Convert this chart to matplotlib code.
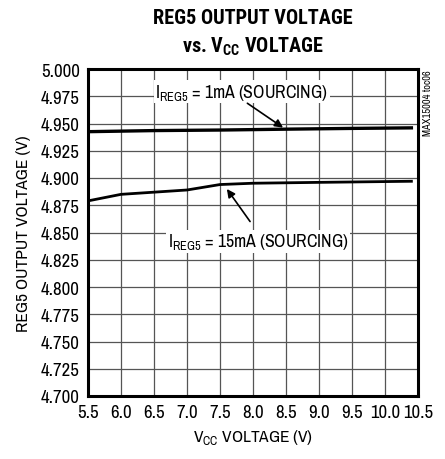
import matplotlib
matplotlib.use("Agg")
import matplotlib.pyplot as plt

FONT = "Archivo Narrow"
TFONT = "Roboto Condensed"
plt.rcParams['font.family'] = [FONT, 'DejaVu Sans']
plt.rcParams['mathtext.fontset'] = 'custom'
plt.rcParams['mathtext.rm'] = FONT
plt.rcParams['mathtext.bf'] = TFONT + ':bold'

vcc_1ma = [5.5, 6.5, 7.5, 8.5, 9.5, 10.4]
reg5_1ma = [4.9425, 4.9435, 4.944, 4.9448, 4.9455, 4.946]
vcc_15ma = [5.5, 6.0, 7.0, 7.5, 8.0, 9.0, 10.4]
reg5_15ma = [4.879, 4.885, 4.889, 4.894, 4.8952, 4.896, 4.897]
xticks = [5.5, 6.0, 6.5, 7.0, 7.5, 8.0, 8.5, 9.0, 9.5, 10.0, 10.5]
yticks = [4.700 + 0.025 * i for i in range(13)]

fig = plt.figure(figsize=(4.45, 4.60), dpi=100)
ax = fig.add_axes([88/445, 1-397/460, 330/445, 327/460])
ax.set_xlim(5.5, 10.5)
ax.set_ylim(4.7, 5.0)
ax.set_xticks(xticks)
ax.set_xticklabels([f"{v:.1f}" for v in xticks])
ax.set_yticks(yticks)
ax.set_yticklabels([f"{v:.3f}" for v in yticks])
ax.grid(True, color='#555555', linewidth=0.9)
ax.tick_params(length=0, labelsize=13.5, pad=6)
for s in ax.spines.values():
    s.set_linewidth(2.2)

ax.plot(vcc_1ma, reg5_1ma, color='black', lw=2.4)
ax.plot(vcc_15ma, reg5_15ma, color='black', lw=2.0)

bbox = dict(facecolor='white', edgecolor='none', pad=1)
ax.text(7.83, 4.979, r"I$_{\mathrm{REG5}}$ = 1mA (SOURCING)", ha='center', va='center', fontsize=12.8, bbox=bbox)
ax.text(8.08, 4.842, r"I$_{\mathrm{REG5}}$ = 15mA (SOURCING)", ha='center', va='center', fontsize=12.8, bbox=bbox)
ax.annotate("", xy=(8.49, 4.9448), xytext=(7.88, 4.970),
            arrowprops=dict(arrowstyle='-|>', color='black', lw=1.2, mutation_scale=12))
ax.annotate("", xy=(7.58, 4.892), xytext=(7.98, 4.858),
            arrowprops=dict(arrowstyle='-|>', color='black', lw=1.2, mutation_scale=12))

ax.set_xlabel(r"V$_{\mathrm{CC}}$ VOLTAGE (V)", fontsize=12.5, labelpad=5)
ax.set_ylabel("REG5 OUTPUT VOLTAGE (V)", fontsize=12.5, labelpad=7)

fig.text(253/445, 1-18/460, "REG5 OUTPUT VOLTAGE", ha='center', va='center',
         fontsize=14.6, fontweight='bold', family=TFONT)
fig.text(253/445, 1-47/460, r"vs. V$_{\mathbf{CC}}$ VOLTAGE", ha='center', va='center',
         fontsize=14.6, fontweight='bold', family=TFONT)
fig.text(428/445, 1-70/460, "MAX15004 toc06", rotation=90, ha='center', va='top', fontsize=7.5)

fig.savefig("out.png", dpi=100)
